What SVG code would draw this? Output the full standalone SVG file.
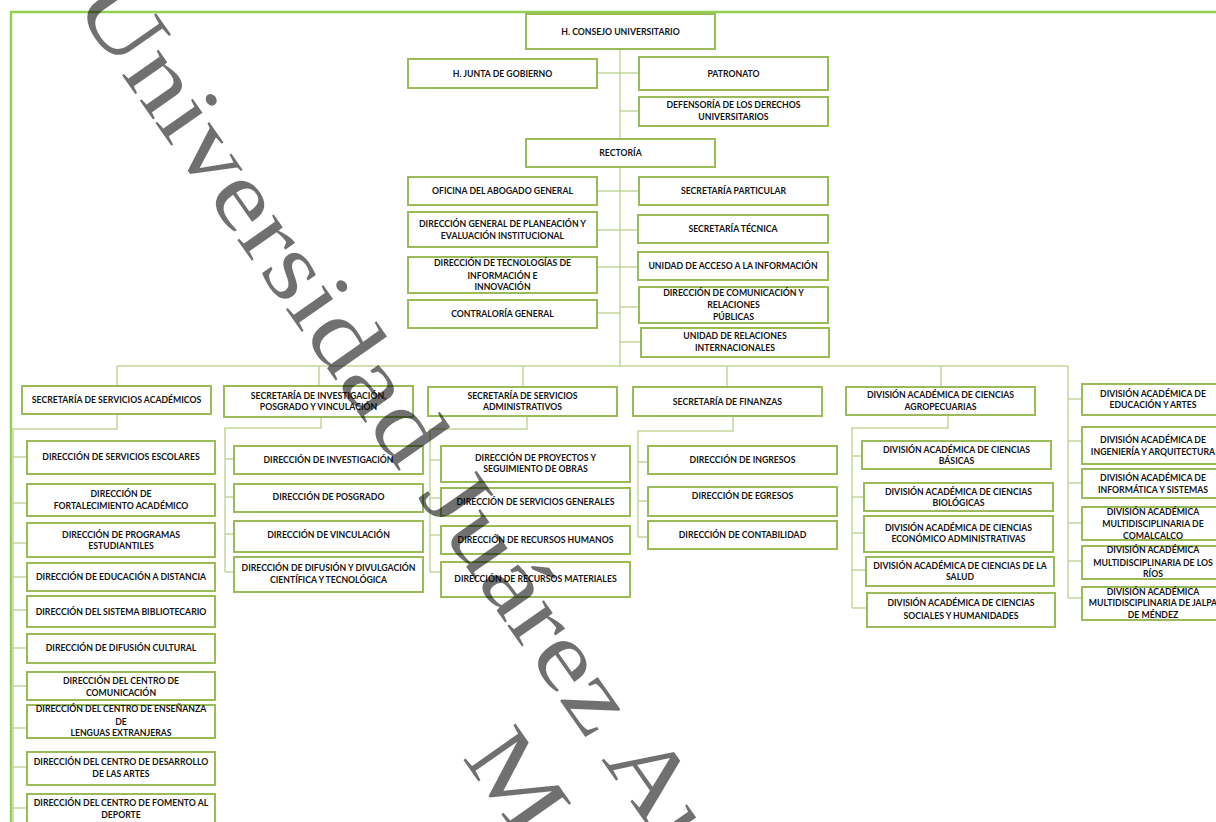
<svg xmlns="http://www.w3.org/2000/svg" width="1216" height="822" viewBox="0 0 1216 822">
<style>
.b{fill:#fff;stroke:#9bbb59;stroke-width:2}
.t{font-family:Lato,"Liberation Sans",sans-serif;font-weight:bold;font-size:8.7px;fill:#141414;text-anchor:middle}
.c{fill:none;stroke:#c3d69b;stroke-width:1.5}
.wm{font-family:"Liberation Serif",serif;font-size:97px;fill:#000;fill-opacity:0.56}
</style>
<rect width="1216" height="822" fill="#fff"/>
<path d="M11,822 V12 H1216" fill="none" stroke="#92d050" stroke-width="2.5"/>
<g id="connectors" class="c">
<path d="M620,49 V139 M597,73 H639 M620,111 H639"/>
<path d="M620,167 V366 M597,191 H639 M597,230 H638 M597,267 H638 M597,313 H620 M620,307 H639 M620,342 H641"/>
<path d="M117,366 H1068 M117,366 V386 M319,366 V386 M523,366 V387 M727,366 V387 M941,366 V387 M1068,366 V598"/>
<path d="M1068,399 H1082 M1068,441 H1082 M1068,483 H1082 M1068,523 H1082 M1068,561 H1082 M1068,598 H1082"/>
<path d="M117,414 V429 H13 V822 M13,457 H27 M13,503 H27 M13,543 H27 M13,577 H27 M13,610 H27 M13,648 H27 M13,686 H27 M13,728 H27 M13,767 H27 M13,808 H27"/>
<path d="M321,417 V428 H225 V572 M225,459 H234 M225,497 H234 M225,534 H234 M225,572 H234"/>
<path d="M527,416 V429 H430 V572 M430,460 H441 M430,498 H441 M430,535 H441 M430,572 H441"/>
<path d="M733,416 V431 H638 V537 M638,462 H648 M638,501 H648 M638,537 H648"/>
<path d="M948,415 V428 H852 V608 M852,456 H862 M852,497 H864 M852,533 H864 M852,570 H866 M852,608 H867"/>
</g>
<g id="consejo"><rect class="b" x="526" y="14" width="189" height="35"/><text class="t" x="620.5" y="35">H. CONSEJO UNIVERSITARIO</text></g>
<g id="junta"><rect class="b" x="408" y="59" width="189" height="29"/><text class="t" x="502.5" y="76.5">H. JUNTA DE GOBIERNO</text></g>
<g id="patronato"><rect class="b" x="639" y="57" width="189" height="33"/><text class="t" x="733.5" y="76.5">PATRONATO</text></g>
<g id="defensoria"><rect class="b" x="639" y="97" width="189" height="29"/><text class="t" x="733.5" y="108">DEFENSORÍA DE LOS DERECHOS<tspan x="733.5" y="120">UNIVERSITARIOS</tspan></text></g>
<g id="rectoria"><rect class="b" x="526" y="139" width="189" height="28"/><text class="t" x="620.5" y="156">RECTORÍA</text></g>
<g id="abogado"><rect class="b" x="408" y="177" width="189" height="28"/><text class="t" x="502.5" y="194">OFICINA DEL ABOGADO GENERAL</text></g>
<g id="particular"><rect class="b" x="639" y="177" width="189" height="28"/><text class="t" x="733.5" y="194">SECRETARÍA PARTICULAR</text></g>
<g id="planeacion"><rect class="b" x="408" y="212" width="189" height="35"/><text class="t" x="502.5" y="227">DIRECCIÓN GENERAL DE PLANEACIÓN Y<tspan x="502.5" y="239">EVALUACIÓN INSTITUCIONAL</tspan></text></g>
<g id="tecnica"><rect class="b" x="638" y="215" width="190" height="28"/><text class="t" x="733" y="232">SECRETARÍA TÉCNICA</text></g>
<g id="tecnologias"><rect class="b" x="408" y="257" width="189" height="36"/><text class="t" x="502.5" y="266">DIRECCIÓN DE TECNOLOGÍAS DE<tspan x="502.5" y="279">INFORMACIÓN E</tspan><tspan x="502.5" y="290">INNOVACIÓN</tspan></text></g>
<g id="acceso"><rect class="b" x="638" y="252" width="190" height="28"/><text class="t" x="733" y="269">UNIDAD DE ACCESO A LA INFORMACIÓN</text></g>
<g id="contraloria"><rect class="b" x="408" y="300" width="189" height="28"/><text class="t" x="502.5" y="317">CONTRALORÍA GENERAL</text></g>
<g id="comunicacion"><rect class="b" x="639" y="287" width="189" height="36"/><text class="t" x="733.5" y="296">DIRECCIÓN DE COMUNICACIÓN Y<tspan x="733.5" y="308">RELACIONES</tspan><tspan x="733.5" y="320">PÚBLICAS</tspan></text></g>
<g id="relaciones"><rect class="b" x="641" y="328" width="188" height="29"/><text class="t" x="735" y="339">UNIDAD DE RELACIONES<tspan x="735" y="351">INTERNACIONALES</tspan></text></g>
<g id="ssa"><rect class="b" x="22" y="386" width="189" height="28"/><text class="t" x="116.5" y="403">SECRETARÍA DE SERVICIOS ACADÉMICOS</text></g>
<g id="sipv"><rect class="b" x="224" y="386" width="189" height="31"/><text class="t" x="318.5" y="399">SECRETARÍA DE INVESTIGACIÓN,<tspan x="318.5" y="410">POSGRADO Y VINCULACIÓN</tspan></text></g>
<g id="ssadm"><rect class="b" x="428" y="387" width="189" height="29"/><text class="t" x="522.5" y="399">SECRETARÍA DE SERVICIOS<tspan x="522.5" y="410">ADMINISTRATIVOS</tspan></text></g>
<g id="finanzas"><rect class="b" x="633" y="387" width="189" height="29"/><text class="t" x="727.5" y="405">SECRETARÍA DE FINANZAS</text></g>
<g id="agropecuarias"><rect class="b" x="846" y="387" width="189" height="28"/><text class="t" x="940.5" y="398">DIVISIÓN ACADÉMICA DE CIENCIAS<tspan x="940.5" y="410">AGROPECUARIAS</tspan></text></g>
<g id="educacion-artes"><rect class="b" x="1082" y="384" width="150" height="31"/><text class="t" x="1153" y="397">DIVISIÓN ACADÉMICA DE<tspan x="1153" y="408">EDUCACIÓN Y ARTES</tspan></text></g>
<g id="escolares"><rect class="b" x="27" y="441" width="188" height="33"/><text class="t" x="121" y="460">DIRECCIÓN DE SERVICIOS ESCOLARES</text></g>
<g id="fortalecimiento"><rect class="b" x="27" y="484" width="188" height="32"/><text class="t" x="121" y="497">DIRECCIÓN DE<tspan x="121" y="509">FORTALECIMIENTO ACADÉMICO</tspan></text></g>
<g id="programas"><rect class="b" x="27" y="523" width="188" height="34"/><text class="t" x="121" y="538">DIRECCIÓN DE PROGRAMAS<tspan x="121" y="549">ESTUDIANTILES</tspan></text></g>
<g id="distancia"><rect class="b" x="27" y="563" width="188" height="28"/><text class="t" x="121" y="580">DIRECCIÓN DE EDUCACIÓN A DISTANCIA</text></g>
<g id="bibliotecario"><rect class="b" x="27" y="596" width="188" height="31"/><text class="t" x="121" y="615">DIRECCIÓN DEL SISTEMA BIBLIOTECARIO</text></g>
<g id="difusion-cultural"><rect class="b" x="27" y="634" width="188" height="29"/><text class="t" x="121" y="651">DIRECCIÓN DE DIFUSIÓN CULTURAL</text></g>
<g id="centro-comunicacion"><rect class="b" x="27" y="672" width="188" height="28"/><text class="t" x="121" y="684">DIRECCIÓN DEL CENTRO DE<tspan x="121" y="696">COMUNICACIÓN</tspan></text></g>
<g id="lenguas"><rect class="b" x="27" y="705" width="188" height="33"/><text class="t" x="121" y="712">DIRECCIÓN DEL CENTRO DE ENSEÑANZA<tspan x="121" y="725">DE</tspan><tspan x="121" y="736">LENGUAS EXTRANJERAS</tspan></text></g>
<g id="artes"><rect class="b" x="27" y="752" width="188" height="33"/><text class="t" x="121" y="765">DIRECCIÓN DEL CENTRO DE DESARROLLO<tspan x="121" y="777">DE LAS ARTES</tspan></text></g>
<g id="deporte"><rect class="b" x="27" y="794" width="188" height="33"/><text class="t" x="121" y="806">DIRECCIÓN DEL CENTRO DE FOMENTO AL<tspan x="121" y="818">DEPORTE</tspan></text></g>
<g id="investigacion"><rect class="b" x="234" y="446" width="189" height="28"/><text class="t" x="328.5" y="463">DIRECCIÓN DE INVESTIGACIÓN</text></g>
<g id="posgrado"><rect class="b" x="234" y="484" width="189" height="28"/><text class="t" x="328.5" y="500">DIRECCIÓN DE POSGRADO</text></g>
<g id="vinculacion"><rect class="b" x="234" y="521" width="189" height="31"/><text class="t" x="328.5" y="538">DIRECCIÓN DE VINCULACIÓN</text></g>
<g id="divulgacion"><rect class="b" x="234" y="557" width="189" height="35"/><text class="t" x="328.5" y="571">DIRECCIÓN DE DIFUSIÓN Y DIVULGACIÓN<tspan x="328.5" y="583">CIENTÍFICA Y TECNOLÓGICA</tspan></text></g>
<g id="proyectos"><rect class="b" x="441" y="446" width="189" height="36"/><text class="t" x="535.5" y="461">DIRECCIÓN DE PROYECTOS Y<tspan x="535.5" y="472">SEGUIMIENTO DE OBRAS</tspan></text></g>
<g id="servicios-generales"><rect class="b" x="441" y="488" width="189" height="28"/><text class="t" x="535.5" y="505">DIRECCIÓN DE SERVICIOS GENERALES</text></g>
<g id="recursos-humanos"><rect class="b" x="441" y="526" width="189" height="28"/><text class="t" x="535.5" y="543">DIRECCIÓN DE RECURSOS HUMANOS</text></g>
<g id="recursos-materiales"><rect class="b" x="441" y="562" width="189" height="35"/><text class="t" x="535.5" y="582">DIRECCIÓN DE RECURSOS MATERIALES</text></g>
<g id="ingresos"><rect class="b" x="648" y="446" width="189" height="28"/><text class="t" x="742.5" y="463">DIRECCIÓN DE INGRESOS</text></g>
<g id="egresos"><rect class="b" x="648" y="487" width="189" height="29"/><text class="t" x="742.5" y="499">DIRECCIÓN DE EGRESOS</text></g>
<g id="contabilidad"><rect class="b" x="648" y="521" width="189" height="28"/><text class="t" x="742.5" y="538">DIRECCIÓN DE CONTABILIDAD</text></g>
<g id="basicas"><rect class="b" x="862" y="441" width="189" height="28"/><text class="t" x="956.5" y="453">DIVISIÓN ACADÉMICA DE CIENCIAS<tspan x="956.5" y="464">BÁSICAS</tspan></text></g>
<g id="biologicas"><rect class="b" x="864" y="483" width="189" height="28"/><text class="t" x="958.5" y="495">DIVISIÓN ACADÉMICA DE CIENCIAS<tspan x="958.5" y="506">BIOLÓGICAS</tspan></text></g>
<g id="economico"><rect class="b" x="864" y="516" width="189" height="36"/><text class="t" x="958.5" y="531">DIVISIÓN ACADÉMICA DE CIENCIAS<tspan x="958.5" y="542">ECONÓMICO ADMINISTRATIVAS</tspan></text></g>
<g id="salud"><rect class="b" x="866" y="557" width="188" height="29"/><text class="t" x="960" y="569">DIVISIÓN ACADÉMICA DE CIENCIAS DE LA<tspan x="960" y="580">SALUD</tspan></text></g>
<g id="sociales"><rect class="b" x="867" y="593" width="188" height="34"/><text class="t" x="961" y="606">DIVISIÓN ACADÉMICA DE CIENCIAS<tspan x="961" y="619">SOCIALES Y HUMANIDADES</tspan></text></g>
<g id="ingenieria"><rect class="b" x="1082" y="427" width="150" height="37"/><text class="t" x="1153" y="443">DIVISIÓN ACADÉMICA DE<tspan x="1153" y="455">INGENIERÍA Y ARQUITECTURA</tspan></text></g>
<g id="informatica"><rect class="b" x="1082" y="469" width="150" height="29"/><text class="t" x="1153" y="481">DIVISIÓN ACADÉMICA DE<tspan x="1153" y="493">INFORMÁTICA Y SISTEMAS</tspan></text></g>
<g id="comalcalco"><rect class="b" x="1082" y="507" width="150" height="33"/><text class="t" x="1153" y="515">DIVISIÓN ACADÉMICA<tspan x="1153" y="527">MULTIDISCIPLINARIA DE</tspan><tspan x="1153" y="539">COMALCALCO</tspan></text></g>
<g id="rios"><rect class="b" x="1082" y="546" width="150" height="33"/><text class="t" x="1153" y="553">DIVISIÓN ACADÉMICA<tspan x="1153" y="566">MULTIDISCIPLINARIA DE LOS</tspan><tspan x="1153" y="577">RÍOS</tspan></text></g>
<g id="jalpa"><rect class="b" x="1082" y="587" width="150" height="33"/><text class="t" x="1153" y="595">DIVISIÓN ACADÉMICA<tspan x="1153" y="606">MULTIDISCIPLINARIA DE JALPA</tspan><tspan x="1153" y="618">DE MÉNDEZ</tspan></text></g>
<g id="watermark" class="wm" transform="translate(72,3.8) rotate(55) scale(1.206,1)">
<text x="0" y="0">Universidad Juárez Autónoma de Tabasco</text>
<text x="697" y="113">México</text>
</g>
</svg>
